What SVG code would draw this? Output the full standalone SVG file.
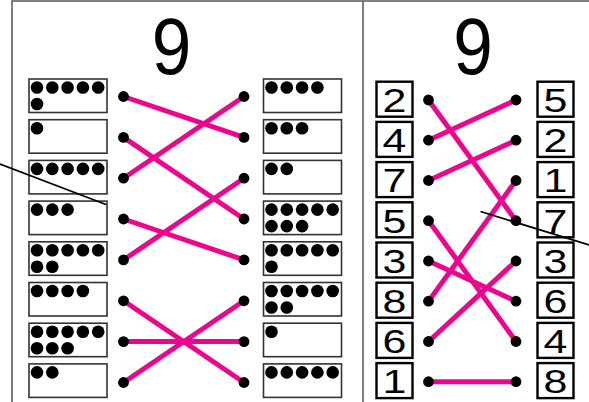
<svg xmlns="http://www.w3.org/2000/svg" width="589" height="402" viewBox="0 0 589 402">
<style>
.frame{fill:none;stroke:#555;stroke-width:1.5}
.dbox{fill:#fff;stroke:#333;stroke-width:1.6}
.nbox{fill:#fff;stroke:#000;stroke-width:2.4}
.d{fill:#000}
.c{stroke:#ec068d;stroke-width:5;stroke-linecap:butt;fill:none}
.blk{stroke:#000;stroke-width:1.8}
.title{font-family:"Liberation Sans",Arial,sans-serif;font-size:79px;fill:#000;text-anchor:middle}
.num{font-family:"Liberation Sans",Arial,sans-serif;font-size:33px;fill:#000;text-anchor:middle}
</style>
<defs>
<circle id="dt" r="6.3" class="d"/>
<circle id="cd" r="5.4" class="d"/>
</defs>
<rect width="589" height="402" fill="#fff"/>
<g id="frame">
<path class="frame" d="M12,402 V1 H589 M363,1 V402"/>
</g>
<g id="title-left"><text class="title" transform="translate(171.5,74) scale(0.9,1)">9</text></g>
<g id="title-right"><text class="title" transform="translate(473,74) scale(0.9,1)">9</text></g>

<!-- left panel, left column -->
<g id="L1"><rect class="dbox" x="29" y="79" width="78" height="33.5"/>
<use href="#dt" x="37" y="87.5"/><use href="#dt" x="52.3" y="87.5"/><use href="#dt" x="67.6" y="87.5"/><use href="#dt" x="82.9" y="87.5"/><use href="#dt" x="98.2" y="87.5"/><use href="#dt" x="37" y="104"/></g>
<g id="L2"><rect class="dbox" x="29" y="119.7" width="78" height="33.5"/>
<use href="#dt" x="37" y="128.2"/></g>
<g id="L3"><rect class="dbox" x="29" y="160.4" width="78" height="33.5"/>
<use href="#dt" x="37" y="168.9"/><use href="#dt" x="52.3" y="168.9"/><use href="#dt" x="67.6" y="168.9"/><use href="#dt" x="82.9" y="168.9"/><use href="#dt" x="98.2" y="168.9"/></g>
<g id="L4"><rect class="dbox" x="29" y="201.1" width="78" height="33.5"/>
<use href="#dt" x="37" y="209.6"/><use href="#dt" x="52.3" y="209.6"/><use href="#dt" x="67.6" y="209.6"/></g>
<g id="L5"><rect class="dbox" x="29" y="241.8" width="78" height="33.5"/>
<use href="#dt" x="37" y="250.3"/><use href="#dt" x="52.3" y="250.3"/><use href="#dt" x="67.6" y="250.3"/><use href="#dt" x="82.9" y="250.3"/><use href="#dt" x="98.2" y="250.3"/><use href="#dt" x="37" y="266.8"/><use href="#dt" x="52.3" y="266.8"/></g>
<g id="L6"><rect class="dbox" x="29" y="282.5" width="78" height="33.5"/>
<use href="#dt" x="37" y="291"/><use href="#dt" x="52.3" y="291"/><use href="#dt" x="67.6" y="291"/><use href="#dt" x="82.9" y="291"/></g>
<g id="L7"><rect class="dbox" x="29" y="323.2" width="78" height="33.5"/>
<use href="#dt" x="37" y="331.7"/><use href="#dt" x="52.3" y="331.7"/><use href="#dt" x="67.6" y="331.7"/><use href="#dt" x="82.9" y="331.7"/><use href="#dt" x="98.2" y="331.7"/><use href="#dt" x="37" y="348.2"/><use href="#dt" x="52.3" y="348.2"/><use href="#dt" x="67.6" y="348.2"/></g>
<g id="L8"><rect class="dbox" x="29" y="363.9" width="78" height="33.5"/>
<use href="#dt" x="37" y="372.4"/><use href="#dt" x="52.3" y="372.4"/></g>

<!-- left panel, right column -->
<g id="R1"><rect class="dbox" x="263.5" y="79" width="78" height="33.5"/>
<use href="#dt" x="271.5" y="87.5"/><use href="#dt" x="286.8" y="87.5"/><use href="#dt" x="302.1" y="87.5"/><use href="#dt" x="317.4" y="87.5"/></g>
<g id="R2"><rect class="dbox" x="263.5" y="119.7" width="78" height="33.5"/>
<use href="#dt" x="271.5" y="128.2"/><use href="#dt" x="286.8" y="128.2"/><use href="#dt" x="302.1" y="128.2"/></g>
<g id="R3"><rect class="dbox" x="263.5" y="160.4" width="78" height="33.5"/>
<use href="#dt" x="271.5" y="168.9"/><use href="#dt" x="286.8" y="168.9"/></g>
<g id="R4"><rect class="dbox" x="263.5" y="201.1" width="78" height="33.5"/>
<use href="#dt" x="271.5" y="209.6"/><use href="#dt" x="286.8" y="209.6"/><use href="#dt" x="302.1" y="209.6"/><use href="#dt" x="317.4" y="209.6"/><use href="#dt" x="332.7" y="209.6"/><use href="#dt" x="271.5" y="226.1"/><use href="#dt" x="286.8" y="226.1"/><use href="#dt" x="302.1" y="226.1"/></g>
<g id="R5"><rect class="dbox" x="263.5" y="241.8" width="78" height="33.5"/>
<use href="#dt" x="271.5" y="250.3"/><use href="#dt" x="286.8" y="250.3"/><use href="#dt" x="302.1" y="250.3"/><use href="#dt" x="317.4" y="250.3"/><use href="#dt" x="332.7" y="250.3"/><use href="#dt" x="271.5" y="266.8"/></g>
<g id="R6"><rect class="dbox" x="263.5" y="282.5" width="78" height="33.5"/>
<use href="#dt" x="271.5" y="291"/><use href="#dt" x="286.8" y="291"/><use href="#dt" x="302.1" y="291"/><use href="#dt" x="317.4" y="291"/><use href="#dt" x="332.7" y="291"/><use href="#dt" x="271.5" y="307.5"/><use href="#dt" x="286.8" y="307.5"/></g>
<g id="R7"><rect class="dbox" x="263.5" y="323.2" width="78" height="33.5"/>
<use href="#dt" x="271.5" y="331.7"/></g>
<g id="R8"><rect class="dbox" x="263.5" y="363.9" width="78" height="33.5"/>
<use href="#dt" x="271.5" y="372.4"/><use href="#dt" x="286.8" y="372.4"/><use href="#dt" x="302.1" y="372.4"/><use href="#dt" x="317.4" y="372.4"/><use href="#dt" x="332.7" y="372.4"/></g>

<!-- right panel number boxes -->
<g id="NL1"><rect class="nbox" x="376.5" y="81.7" width="36" height="35"/><text class="num" transform="translate(394.5,112) scale(1.3,1)">2</text></g>
<g id="NL2"><rect class="nbox" x="376.5" y="121.9" width="36" height="35"/><text class="num" transform="translate(394.5,152.2) scale(1.3,1)">4</text></g>
<g id="NL3"><rect class="nbox" x="376.5" y="162.1" width="36" height="35"/><text class="num" transform="translate(394.5,192.4) scale(1.3,1)">7</text></g>
<g id="NL4"><rect class="nbox" x="376.5" y="202.3" width="36" height="35"/><text class="num" transform="translate(394.5,232.6) scale(1.3,1)">5</text></g>
<g id="NL5"><rect class="nbox" x="376.5" y="242.5" width="36" height="35"/><text class="num" transform="translate(394.5,272.8) scale(1.3,1)">3</text></g>
<g id="NL6"><rect class="nbox" x="376.5" y="282.7" width="36" height="35"/><text class="num" transform="translate(394.5,313) scale(1.3,1)">8</text></g>
<g id="NL7"><rect class="nbox" x="376.5" y="322.9" width="36" height="35"/><text class="num" transform="translate(394.5,353.2) scale(1.3,1)">6</text></g>
<g id="NL8"><rect class="nbox" x="376.5" y="363.1" width="36" height="35"/><text class="num" transform="translate(394.5,393.4) scale(1.3,1)">1</text></g>

<g id="NR1"><rect class="nbox" x="537.5" y="81.7" width="36" height="35"/><text class="num" transform="translate(555.5,112) scale(1.3,1)">5</text></g>
<g id="NR2"><rect class="nbox" x="537.5" y="121.9" width="36" height="35"/><text class="num" transform="translate(555.5,152.2) scale(1.3,1)">2</text></g>
<g id="NR3"><rect class="nbox" x="537.5" y="162.1" width="36" height="35"/><text class="num" transform="translate(555.5,192.4) scale(1.3,1)">1</text></g>
<g id="NR4"><rect class="nbox" x="537.5" y="202.3" width="36" height="35"/><text class="num" transform="translate(555.5,232.6) scale(1.3,1)">7</text></g>
<g id="NR5"><rect class="nbox" x="537.5" y="242.5" width="36" height="35"/><text class="num" transform="translate(555.5,272.8) scale(1.3,1)">3</text></g>
<g id="NR6"><rect class="nbox" x="537.5" y="282.7" width="36" height="35"/><text class="num" transform="translate(555.5,313) scale(1.3,1)">6</text></g>
<g id="NR7"><rect class="nbox" x="537.5" y="322.9" width="36" height="35"/><text class="num" transform="translate(555.5,353.2) scale(1.3,1)">4</text></g>
<g id="NR8"><rect class="nbox" x="537.5" y="363.1" width="36" height="35"/><text class="num" transform="translate(555.5,393.4) scale(1.3,1)">8</text></g>

<g id="connectors">
<!-- left panel -->
<line class="c" x1="123.5" y1="96.5" x2="244" y2="137.4"/>
<line class="c" x1="123.5" y1="178.2" x2="244" y2="96.5"/>
<line class="c" x1="123.5" y1="137.4" x2="244" y2="219"/>
<line class="c" x1="123.5" y1="219" x2="244" y2="259.9"/>
<line class="c" x1="123.5" y1="259.9" x2="244" y2="178.2"/>
<line class="c" x1="123.5" y1="300.8" x2="244" y2="382.5"/>
<line class="c" x1="123.5" y1="341.6" x2="244" y2="341.6"/>
<line class="c" x1="123.5" y1="382.5" x2="244" y2="300.8"/>
<!-- right panel -->
<line class="c" x1="428.5" y1="100" x2="516" y2="220.7"/>
<line class="c" x1="428.5" y1="140.2" x2="516" y2="100"/>
<line class="c" x1="428.5" y1="180.5" x2="516" y2="140.2"/>
<line class="c" x1="428.5" y1="220.7" x2="516" y2="341.5"/>
<line class="c" x1="428.5" y1="261" x2="516" y2="301.2"/>
<line class="c" x1="428.5" y1="301.2" x2="516" y2="180.5"/>
<line class="c" x1="428.5" y1="341.5" x2="516" y2="261"/>
<line class="c" x1="428.5" y1="381.7" x2="516" y2="381.7"/>
<!-- connector dots -->
<use href="#cd" x="123.5" y="96.5"/><use href="#cd" x="123.5" y="137.4"/><use href="#cd" x="123.5" y="178.2"/><use href="#cd" x="123.5" y="219"/><use href="#cd" x="123.5" y="259.9"/><use href="#cd" x="123.5" y="300.8"/><use href="#cd" x="123.5" y="341.6"/><use href="#cd" x="123.5" y="382.5"/>
<use href="#cd" x="244" y="96.5"/><use href="#cd" x="244" y="137.4"/><use href="#cd" x="244" y="178.2"/><use href="#cd" x="244" y="219"/><use href="#cd" x="244" y="259.9"/><use href="#cd" x="244" y="300.8"/><use href="#cd" x="244" y="341.6"/><use href="#cd" x="244" y="382.5"/>
<use href="#cd" x="428.5" y="100"/><use href="#cd" x="428.5" y="140.2"/><use href="#cd" x="428.5" y="180.5"/><use href="#cd" x="428.5" y="220.7"/><use href="#cd" x="428.5" y="261"/><use href="#cd" x="428.5" y="301.2"/><use href="#cd" x="428.5" y="341.5"/><use href="#cd" x="428.5" y="381.7"/>
<use href="#cd" x="516" y="100"/><use href="#cd" x="516" y="140.2"/><use href="#cd" x="516" y="180.5"/><use href="#cd" x="516" y="220.7"/><use href="#cd" x="516" y="261"/><use href="#cd" x="516" y="301.2"/><use href="#cd" x="516" y="341.5"/><use href="#cd" x="516" y="381.7"/>
<!-- thin black lines -->
<line class="blk" x1="0" y1="164" x2="106" y2="204.5"/>
<line class="blk" x1="480.5" y1="211.5" x2="589" y2="245"/>
</g>
</svg>
